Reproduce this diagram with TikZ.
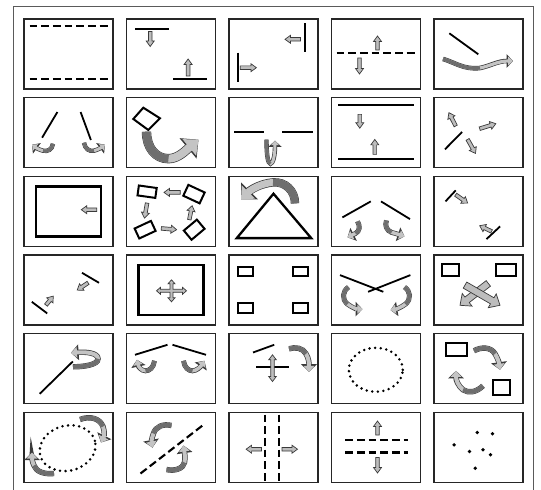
\documentclass[tikz,border=0pt]{standalone}
\usetikzlibrary{arrows.meta,calc}
\definecolor{ribline}{HTML}{3A3A3A}
\definecolor{riblight}{HTML}{C4C4C4}
\definecolor{ribdark}{HTML}{6E6E6E}
\definecolor{arrfill}{HTML}{BDBDBD}
\definecolor{framegray}{HTML}{5A5A5A}
\tikzset{
  panel/.style={draw=black!85, line width=1.3bp},
  seg/.style={draw=black, line width=1.8bp},
  dashln/.style={draw=black, line width=2.1bp, dash pattern=on 7.8bp off 3.9bp},
  dotln/.style={draw=black, line width=2.8bp, line cap=round, dash pattern=on 0bp off 5.6bp},
  thickbox/.style={draw=black, line width=2bp, line join=miter},
  rectbox/.style={draw=black, line width=2bp, inner sep=0pt, rectangle},
  barr/.style={draw=ribline, fill=arrfill, line width=0.7bp, line join=miter},
}
\newcommand\blkarrowx[5]{%
  \coordinate (bA) at (#4); \coordinate (bB) at (#5);
  \coordinate (bH) at ($(bB)!#3bp!(bA)$);
  \draw[barr] ($(bA)!#1bp!90:(bB)$) -- ($(bH)!#1bp!-90:(bA)$) -- ($(bH)!#2bp!-90:(bA)$) -- (bB) -- ($(bH)!#2bp!90:(bA)$) -- ($(bH)!#1bp!90:(bA)$) -- ($(bA)!#1bp!-90:(bB)$) -- cycle;}
\newcommand\blkarrow[2]{\blkarrowx{1.8}{4}{5.5}{#1}{#2}}
\newcommand\ribarrow[3][4]{%
  \pgfmathsetlengthmacro\rwo{#1*1bp+1.4bp}%
  \pgfmathsetlengthmacro\rwi{#1*1bp}%
  \pgfmathsetlengthmacro\rtl{#1*1.5bp}%
  \pgfmathsetlengthmacro\rtw{#1*2.6bp}%
  \pgfmathsetlengthmacro\rol{#1*1.5bp+1.6bp}%
  \pgfmathsetlengthmacro\row{#1*2.6bp+5bp}%
  \draw[line width=\rwo, draw=ribline, -{Triangle[length=\rol,width=\row]}] #2 #3;
  \draw[line width=\rwi, draw=riblight, -{Triangle[length=\rtl,width=\rtw]}] #2 #3;
  \draw[line width=\rwi, draw=ribdark] #2;
}
\begin{document}
\begin{tikzpicture}[x=1bp,y=-1bp]
\useasboundingbox (0,0) rectangle (541,490);
\fill[white] (0,0) rectangle (541,490);
% outer frame
\draw[framegray, line width=1bp] (13,491) -- (13,7) -- (533,7) -- (533,491);
% ---------- Row 1 ----------
\begin{scope}[shift={(24,19)}]
  \draw[panel] (0,0) rectangle (89,70);
  \draw[dashln] (5.5,7) -- (85,7);
  \draw[dashln] (5.5,60) -- (85,60);
\end{scope}
\begin{scope}[shift={(126.5,19)}]
  \draw[panel] (0,0) rectangle (89,70);
  \draw[seg] (8.5,10) -- (42.3,10);
  \blkarrow{23.7,12.5}{23.7,27.5}
  \draw[seg] (46.7,60) -- (80.5,60);
  \blkarrow{61.6,57}{61.6,40}
\end{scope}
\begin{scope}[shift={(229,19)}]
  \draw[panel] (0,0) rectangle (89,70);
  \draw[seg] (75.6,4.3) -- (75.6,32.7);
  \blkarrow{71.5,20.3}{56,20.3}
  \draw[seg] (8.6,33.7) -- (8.6,62.7);
  \blkarrow{11.3,48.7}{27.4,48.7}
\end{scope}
\begin{scope}[shift={(331.5,19)}]
  \draw[panel] (0,0) rectangle (89,70);
  \draw[dashln] (5,33.7) -- (85,33.7);
  \blkarrow{46,31}{46,17}
  \blkarrow{28,39}{28,55}
\end{scope}
\begin{scope}[shift={(434,19)}]
  \draw[panel] (0,0) rectangle (89,70);
  \draw[seg] (15.3,14.3) -- (44.3,35.3);
  \ribarrow[3.2]{(9,40) .. controls (20,43) and (30,51) .. (46,49)}{.. controls (56,47) and (64,42) .. (79,42)}
\end{scope}
% ---------- Row 2 ----------
\begin{scope}[shift={(24,97.7)}]
  \draw[panel] (0,0) rectangle (89,70);
  \draw[seg] (33.4,14.3) -- (18.1,40);
  \draw[seg] (56.6,14.3) -- (66.9,42.3);
  \ribarrow[3]{(29,46) .. controls (28,52) and (24,54) .. (19,53)}{.. controls (15,52) and (12,50) .. (8,47)}
  \ribarrow[3]{(60,45) .. controls (61,51) and (65,54) .. (70,53)}{.. controls (74,52) and (77,50) .. (81,47)}
\end{scope}
\begin{scope}[shift={(126.5,97.7)}]
  \draw[panel] (0,0) rectangle (89,70);
  \draw[thickbox] (6.8,21.3) -- (16.8,10) -- (33.5,20.6) -- (21.8,32.3) -- cycle;
  \ribarrow[8]{(20,34) .. controls (20,50) and (29,61) .. (42,61)}{.. controls (52,61) and (60,52) .. (72,42)}
\end{scope}
\begin{scope}[shift={(229,97.7)}]
  \draw[panel] (0,0) rectangle (89,70);
  \draw[seg] (5.1,34.3) -- (35.3,34.3);
  \draw[seg] (53.1,34.3) -- (83.9,34.3);
  \ribarrow[3]{(37.5,42) .. controls (37.5,58) and (39,66) .. (41.5,66)}{.. controls (44,66) and (46,58) .. (46,43)}
\end{scope}
\begin{scope}[shift={(331.5,97.7)}]
  \draw[panel] (0,0) rectangle (89,70);
  \draw[seg] (6.8,7.7) -- (82.5,7.7);
  \draw[seg] (6.8,61) -- (82.5,61);
  \blkarrow{28.3,16.7}{28.3,30.5}
  \blkarrow{43.3,56.7}{43.3,41.7}
\end{scope}
\begin{scope}[shift={(434,97.7)}]
  \draw[panel] (0,0) rectangle (89,70);
  \draw[seg] (10.9,51.7) -- (28,34.3);
  \blkarrow{21.7,28.3}{14.9,15}
  \blkarrow{45.7,31}{61.8,26}
  \blkarrow{33.6,41.7}{41.5,55.7}
\end{scope}
% ---------- Row 3 ----------
\begin{scope}[shift={(24,176.4)}]
  \draw[panel] (0,0) rectangle (89,70);
  \draw[black, line width=2.5bp] (11.9,10) rectangle (77.1,60);
  \blkarrow{72.7,33.3}{57.3,33.3}
\end{scope}
\begin{scope}[shift={(126.5,176.4)}]
  \draw[panel] (0,0) rectangle (89,70);
  \node[rectbox, minimum width=18bp, minimum height=10bp, rotate=-8] (r32a) at (20.6,15.3) {};
  \node[rectbox, minimum width=18bp, minimum height=12bp, rotate=-25] (r32b) at (67.5,17.7) {};
  \node[rectbox, minimum width=18bp, minimum height=11bp, rotate=25] (r32c) at (18.6,53.3) {};
  \node[rectbox, minimum width=17bp, minimum height=12bp, rotate=40] (r32d) at (67.7,53.3) {};
  \blkarrow{53.8,16}{37.5,16}
  \blkarrow{20.6,26.7}{18,41.7}
  \blkarrow{34.8,52}{50.1,53.3}
  \blkarrow{62.8,43.3}{65.6,29.3}
\end{scope}
\begin{scope}[shift={(229,176.4)}]
  \draw[panel] (0,0) rectangle (89,70);
  \draw[black, line width=2.3bp, line join=miter] (44.5,17.3) -- (82.2,61.7) -- (7.8,61.7) -- cycle;
  \ribarrow[7]{(66,27) .. controls (66,14) and (56,5) .. (44,6)}{.. controls (32,7) and (22,13) .. (12,23)}
\end{scope}
\begin{scope}[shift={(331.5,176.4)}]
  \draw[panel] (0,0) rectangle (89,70);
  \draw[seg] (10.9,41) -- (39.3,25);
  \draw[seg] (49.5,25) -- (78.5,42.7);
  \ribarrow[3.5]{(26,45) .. controls (29,50) and (28,55) .. (24,57)}{.. controls (22,58) and (20,59) .. (16,61)}
  \ribarrow[3.5]{(55,44) .. controls (53,49) and (55,54) .. (60,56)}{.. controls (64,57) and (67,58) .. (73,60)}
\end{scope}
\begin{scope}[shift={(434,176.4)}]
  \draw[panel] (0,0) rectangle (89,70);
  \draw[seg] (11.5,25) -- (21.7,14);
  \blkarrow{21.7,18.3}{33.6,26.7}
  \draw[seg] (52.5,62.7) -- (66.1,50);
  \blkarrow{57.6,55}{45.7,49.3}
\end{scope}
% ---------- Row 4 ----------
\begin{scope}[shift={(24,255.1)}]
  \draw[panel] (0,0) rectangle (89,70);
  \draw[seg] (7.8,46.7) -- (23.2,58.3);
  \blkarrow{22,50}{29.3,41}
  \draw[seg] (58,17.7) -- (75,27.7);
  \blkarrow{64.1,27.7}{53.2,35}
\end{scope}
\begin{scope}[shift={(126.5,255.1)}]
  \draw[panel] (0,0) rectangle (89,70);
  \draw[black, line width=2.5bp] (12.2,10) rectangle (77.2,60);
  \begin{scope}[shift={(45,35.7)}]
    \draw[barr] (1.5,1.5) -- (11,1.5) -- (11,3.5) -- (15,0) -- (11,-3.5) -- (11,-1.5) -- (1.5,-1.5)
      -- (1.5,-7) -- (3.5,-7) -- (0,-11) -- (-3.5,-7) -- (-1.5,-7) -- (-1.5,-1.5)
      -- (-11,-1.5) -- (-11,-3.5) -- (-15,0) -- (-11,3.5) -- (-11,1.5) -- (-1.5,1.5)
      -- (-1.5,7) -- (-3.5,7) -- (0,11) -- (3.5,7) -- (1.5,7) -- cycle;
  \end{scope}
\end{scope}
\begin{scope}[shift={(229,255.1)}]
  \draw[panel] (0,0) rectangle (89,70);
  \draw[thickbox] (8.6,12.3) rectangle (24,21);
  \draw[thickbox] (63.9,12.3) rectangle (79.3,21);
  \draw[thickbox] (8.6,48.3) rectangle (24,57.7);
  \draw[thickbox] (63.9,48.3) rectangle (79.3,57.7);
\end{scope}
\begin{scope}[shift={(331.5,255.1)}]
  \draw[panel] (0,0) rectangle (89,70);
  \draw[seg] (8.5,20) -- (51.8,36.7);
  \draw[seg] (78.9,20) -- (36.6,36.7);
  \ribarrow[3.5]{(17,32) .. controls (11,36) and (10,44) .. (16,49)}{.. controls (20,52) and (25,54) .. (31,54)}
  \ribarrow[3.5]{(73,32) .. controls (79,36) and (80,44) .. (74,49)}{.. controls (70,52) and (65,54) .. (59,55)}
\end{scope}
\begin{scope}[shift={(434,255.1)}]
  \draw[panel] (0,0) rectangle (89,70);
  \draw[thickbox] (8.2,9) rectangle (25.2,21);
  \draw[thickbox] (61.8,9) rectangle (82,21);
  \blkarrowx{3.5}{8}{9}{54.3,28.3}{26,50.2}
  \blkarrowx{3.5}{8}{9}{31,30}{66,50.2}
\end{scope}
% ---------- Row 5 ----------
\begin{scope}[shift={(24,333.8)}]
  \draw[panel] (0,0) rectangle (89,70);
  \draw[seg] (15.7,60) -- (48.8,27.7);
  \ribarrow[4]{(49,33) .. controls (60,33) and (74,31) .. (74,25)}{.. controls (74,19) and (62,18) .. (47,19)}
\end{scope}
\begin{scope}[shift={(126.5,333.8)}]
  \draw[panel] (0,0) rectangle (89,70);
  \draw[seg] (8.5,21) -- (41,11);
  \draw[seg] (46,11) -- (79.5,21);
  \ribarrow[3.5]{(28,27) .. controls (27,34) and (23,37) .. (19,37)}{.. controls (15,37) and (12,33) .. (10.5,26)}
  \ribarrow[3.5]{(57,27) .. controls (58,34) and (62,37) .. (66,37)}{.. controls (70,37) and (74,33) .. (78,27)}
\end{scope}
\begin{scope}[shift={(229,333.8)}]
  \draw[panel] (0,0) rectangle (89,70);
  \draw[seg] (24,18.7) -- (45.2,11);
  \draw[seg] (27.4,33.3) -- (59.9,33.3);
  \draw[barr] (43.5,21) -- (47.3,26) -- (45.2,26) -- (45.2,42.7) -- (47.3,42.7) -- (43.5,47.7) -- (39.7,42.7) -- (41.8,42.7) -- (41.8,26) -- (39.7,26) -- cycle;
  \ribarrow[4]{(60,15) .. controls (66,13) and (74,14) .. (77,20)}{.. controls (80,25) and (80,30) .. (80,38)}
\end{scope}
\begin{scope}[shift={(331.5,333.8)}]
  \draw[panel] (0,0) rectangle (89,70);
  \draw[dotln] (44.3,36) ellipse [x radius=27bp, y radius=22bp];
\end{scope}
\begin{scope}[shift={(434,333.8)}]
  \draw[panel] (0,0) rectangle (89,70);
  \draw[thickbox] (12.3,9.3) rectangle (32.7,22);
  \draw[thickbox] (58.6,46) rectangle (76.3,61);
  \ribarrow[4]{(40,17) .. controls (47,13) and (57,13) .. (61,20)}{.. controls (64,25) and (65,29) .. (66,36)}
  \ribarrow[4]{(49,52) .. controls (43,58) and (35,60) .. (29,56)}{.. controls (24,52) and (22,46) .. (22,37)}
\end{scope}
% ---------- Row 6 ----------
\begin{scope}[shift={(24,412.5)}]
  \draw[panel] (0,0) rectangle (89,70);
  \begin{scope}[shift={(43.6,35.7)}, rotate=15]
    \draw[dotln] (0,0) ellipse [x radius=28.3bp, y radius=22.5bp];
  \end{scope}
  \ribarrow[4]{(56,7) .. controls (66,3) and (76,6) .. (79,14)}{.. controls (81,20) and (80,24) .. (77,30)}
  \ribarrow[4]{(30,61) .. controls (20,62) and (12,59) .. (10,53)}{.. controls (8,49) and (8,45) .. (8,40)}
\end{scope}
\begin{scope}[shift={(126.5,412.5)}]
  \draw[panel] (0,0) rectangle (89,70);
  \draw[dashln] (14,61) -- (78.2,11.3);
  \ribarrow[4]{(45,13) .. controls (37,11) and (29,14) .. (27,21)}{.. controls (25,26) and (25,30) .. (26,35)}
  \ribarrow[4]{(40,57) .. controls (48,59) and (57,56) .. (58,50)}{.. controls (59,45) and (58,40) .. (57,33)}
\end{scope}
\begin{scope}[shift={(229,412.5)}]
  \draw[panel] (0,0) rectangle (89,70);
  \draw[dashln] (35.9,2) -- (35.9,68);
  \draw[dashln] (49.6,2) -- (49.6,68);
  \blkarrow{32.5,36.7}{17.1,36.7}
  \blkarrow{53,36.7}{68.5,36.7}
\end{scope}
\begin{scope}[shift={(331.5,412.5)}]
  \draw[panel] (0,0) rectangle (89,70);
  \draw[dashln] (13.6,27.3) -- (76.4,27.3);
  \draw[dashln] (13.6,40) -- (76.4,40);
  \blkarrow{46,22.5}{46,8.5}
  \blkarrow{46,45}{46,60.5}
\end{scope}
\begin{scope}[shift={(434,412.5)}]
  \draw[panel] (0,0) rectangle (89,70);
  \foreach \px/\py in {43.2/20, 58.5/21.3, 20.1/32.3, 35.4/39, 49/37.3, 56.5/42.3, 41.2/55.7}
    \fill[black] (\px,\py) circle (1.9bp);
\end{scope}
\end{tikzpicture}
\end{document}
